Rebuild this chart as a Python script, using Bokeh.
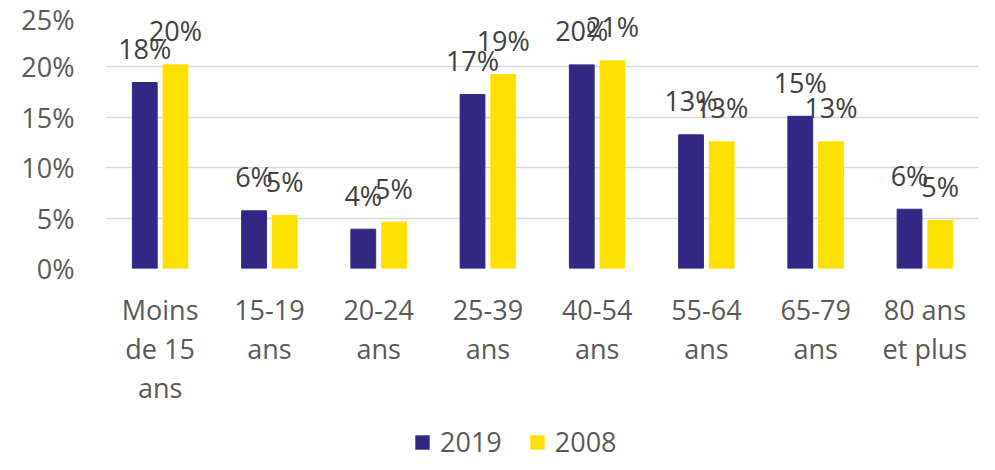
from bokeh.plotting import figure
from bokeh.layouts import column
from bokeh.models import (ColumnDataSource, FactorRange, Legend, LegendItem,
                          NumeralTickFormatter, FixedTicker, Range1d)
from bokeh.transform import dodge
from bokeh.core.properties import value
from bokeh.embed import file_html
from bokeh.resources import INLINE

categories = ["Moins\nde 15\nans", "15-19\nans", "20-24\nans", "25-39\nans",
              "40-54\nans", "55-64\nans", "65-79\nans", "80 ans\net plus"]
values_2019 = [0.1845, 0.0572, 0.039, 0.1726, 0.202, 0.1326, 0.151, 0.0588]
values_2008 = [0.202, 0.0526, 0.046, 0.1925, 0.206, 0.1257, 0.1257, 0.0476]
series_names = ["2019", "2008"]
y_ticks = [0, 0.05, 0.10, 0.15, 0.20, 0.25]

FONT = "Open Sans"
C2019 = "#322884"
C2008 = "#FFE000"

src = ColumnDataSource(dict(
    cat=categories,
    v19=values_2019,
    v08=values_2008,
    t19=[f"{round(v * 100):.0f}%" for v in values_2019],
    t08=[f"{round(v * 100):.0f}%" for v in values_2008],
))

p = figure(x_range=FactorRange(*categories), y_range=(0, 0.25),
           width=979, height=414,
           output_backend="svg", toolbar_location=None,
           min_border_left=105, min_border_right=0, min_border_top=16,
           min_border_bottom=146)
p.outline_line_color = None
p.background_fill_color = "white"

off = 0.1405
bw = 0.227
p.vbar(x=dodge("cat", -off, range=p.x_range), top="v19", width=bw,
       source=src, fill_color=C2019, line_color=C2019)
p.vbar(x=dodge("cat", off, range=p.x_range), top="v08", width=bw,
       source=src, fill_color=C2008, line_color=C2008)

for col, t, dx in (("v19", "t19", -off), ("v08", "t08", off)):
    p.text(x=dodge("cat", dx, range=p.x_range), y=col, text=t, source=src,
           text_font=value(FONT), text_font_size="27px", text_color="#404040",
           text_align="center", text_baseline="alphabetic", y_offset=-34)

# y axis
p.yaxis.ticker = FixedTicker(ticks=y_ticks)
p.yaxis.formatter = NumeralTickFormatter(format="0%")
p.yaxis.axis_line_color = None
p.yaxis.major_tick_line_color = None
p.yaxis.minor_tick_line_color = None
p.yaxis.major_label_standoff = 25
p.yaxis.major_label_text_font = FONT
p.yaxis.major_label_text_font_size = "27px"
p.yaxis.major_label_text_color = "#595959"

# x axis
p.xaxis.axis_line_color = None
p.xaxis.major_tick_line_color = None
p.xaxis.minor_tick_line_color = None
p.xaxis.major_label_standoff = 16
p.xaxis.major_label_text_font = FONT
p.xaxis.major_label_text_font_size = "27px"
p.xaxis.major_label_text_color = "#595959"
p.xaxis.major_label_text_line_height = 1.06

p.xgrid.grid_line_color = None
p.ygrid.grid_line_color = "#D9D9D9"
p.ygrid.grid_line_width = 1.3

# legend strip below the chart (zero-height proxy swatches, nothing visible)
leg = figure(width=979, height=40, x_range=Range1d(0, 1), y_range=Range1d(0, 1),
             output_backend="svg", toolbar_location=None,
             x_axis_location=None, y_axis_location=None, min_border=0)
leg.outline_line_color = None
leg.grid.grid_line_color = None
s1 = leg.vbar(x=[-5], top=[0], width=0.1, fill_color=C2019, line_color=None)
s2 = leg.vbar(x=[-5], top=[0], width=0.1, fill_color=C2008, line_color=None)
legend = Legend(items=[LegendItem(label=series_names[0], renderers=[s1]),
                       LegendItem(label=series_names[1], renderers=[s2])],
                orientation="horizontal", location=(308, -6),
                label_text_font=FONT, label_text_font_size="27px",
                label_text_color="#595959", glyph_width=18, glyph_height=18,
                label_standoff=9, spacing=26, padding=0, margin=0,
                border_line_color=None, background_fill_alpha=0)
leg.add_layout(legend, "center")

layout = column(p, leg, spacing=0)
open("out.html", "w").write(file_html(layout, INLINE))
